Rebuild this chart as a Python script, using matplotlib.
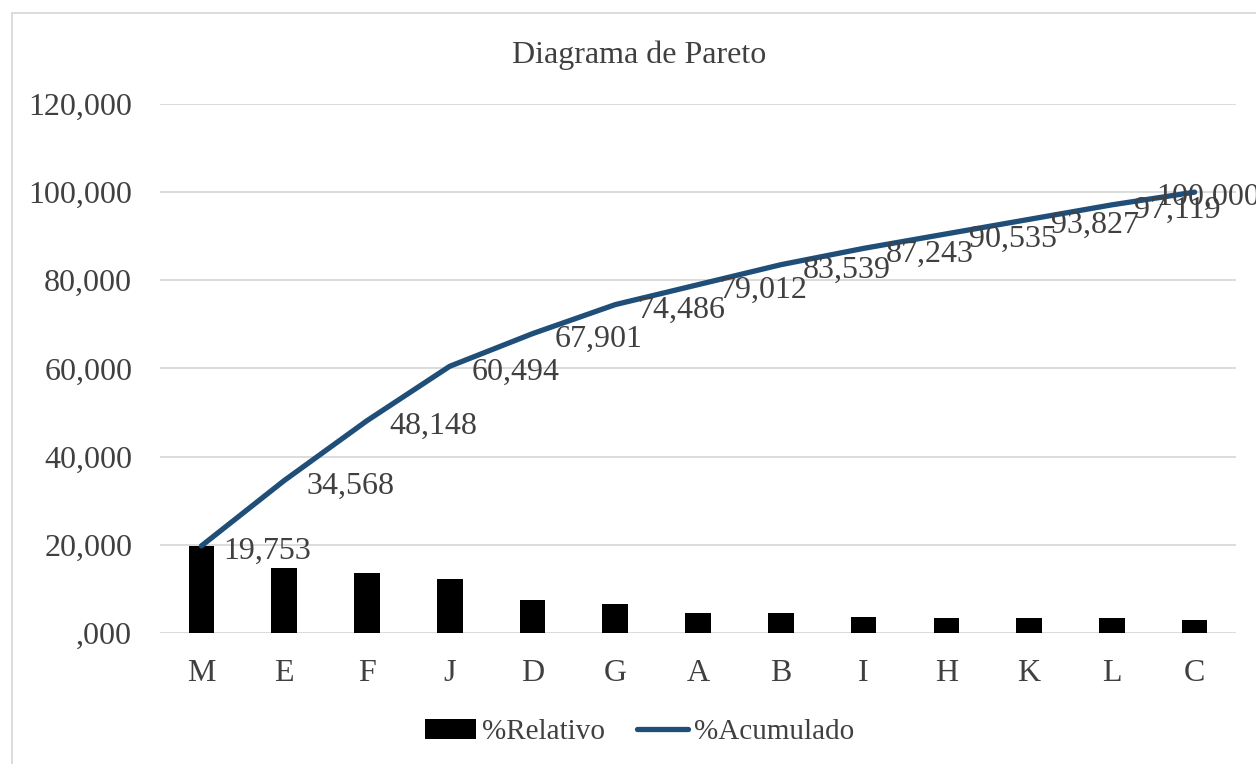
import matplotlib
matplotlib.use('Agg')
import matplotlib.pyplot as plt
from matplotlib.lines import Line2D
from matplotlib.patches import Patch, Rectangle
from matplotlib.ticker import FuncFormatter, MultipleLocator

plt.rcParams['font.family'] = ['Liberation Serif', 'DejaVu Serif']

# Pareto data: category, relative % and cumulative %
categorias = ['M', 'E', 'F', 'J', 'D', 'G', 'A', 'B', 'I', 'H', 'K', 'L', 'C']
relativo = [19.753, 14.815, 13.580, 12.346, 7.407, 6.585, 4.526, 4.527,
            3.704, 3.292, 3.292, 3.292, 2.881]
acumulado = [19.753, 34.568, 48.148, 60.494, 67.901, 74.486, 79.012, 83.539,
             87.243, 90.535, 93.827, 97.119, 100.000]

texto = '#404040'
azul = '#1F4E79'
gris = '#D9D9D9'


def formato_coma(v, pos=None):
    # Excel-like "#,000" with comma as decimal separator
    s = f'{v:.3f}'.replace('.', ',')
    if s.startswith('0'):
        s = s[1:]
    return s


fig = plt.figure(figsize=(12.56, 7.64), dpi=100)
ax = fig.add_axes([0.1274, 0.1715, 0.8567, 0.6924])

# chart border
fig.patches.append(Rectangle((12 / 1256, -0.05), 1.1, 1 - 13 / 764 + 0.05,
                             transform=fig.transFigure, fill=False,
                             edgecolor=gris, linewidth=1.3))

x = list(range(len(categorias)))
ax.bar(x, relativo, width=0.31, color='black', zorder=2)
ax.plot(x, acumulado, color=azul, linewidth=3.8, solid_capstyle='round', zorder=3)

# data labels on the cumulative line
for i, v in enumerate(acumulado):
    dx = 16 if i < len(acumulado) - 1 else -28
    ax.annotate(formato_coma(v), (i, v), xytext=(dx, -4), textcoords='offset points',
                ha='left', va='center', fontsize=23, color=texto, zorder=4,
                annotation_clip=False)

ax.set_xlim(-0.5, len(categorias) - 0.5)
ax.set_ylim(0, 120)
ax.yaxis.set_major_locator(MultipleLocator(20))
ax.yaxis.set_major_formatter(FuncFormatter(formato_coma))
ax.set_xticks(x)
ax.set_xticklabels(categorias)

for s in ax.spines.values():
    s.set_visible(False)
ax.grid(axis='y', color=gris, linewidth=1.3, zorder=0)
ax.set_axisbelow(True)
ax.tick_params(axis='both', length=0, labelsize=23, colors=texto)
ax.tick_params(axis='y', pad=20)
ax.tick_params(axis='x', pad=19)

fig.text(0.509, 0.928, 'Diagrama de Pareto', ha='center', va='center',
         fontsize=23, color=texto)

handles = [Patch(facecolor='black', edgecolor='none'),
           Line2D([0], [0], color=azul, linewidth=3.8, solid_capstyle='round')]
fig.legend(handles, ['%Relativo', '%Acumulado'], loc='center', ncol=2,
           bbox_to_anchor=(0.509, 0.042), frameon=False, fontsize=21,
           labelcolor=texto, handlelength=1.75, handletextpad=0.2,
           columnspacing=1.1)

fig.savefig('out.png', dpi=100)
